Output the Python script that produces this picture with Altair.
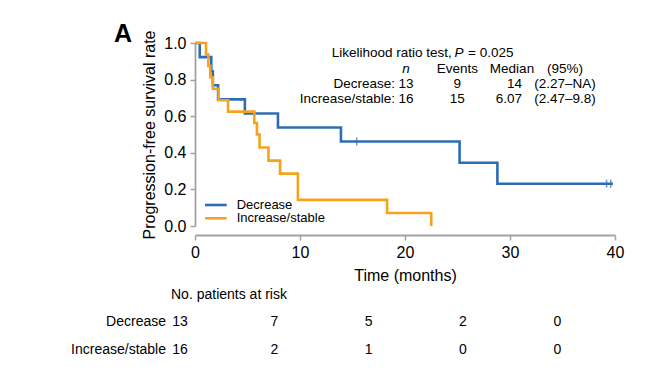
import altair as alt
import pandas as pd

FONT = "Liberation Sans"
BLUE = "#2e6db5"
ORANGE = "#f5a31e"
AXIS_GRAY = "#a3a3a3"

# Kaplan-Meier curves
groups = ["Decrease", "Increase/stable"]
dec_time = [0, 0.45, 1.55, 1.7, 2.2, 4.75, 7.9, 13.9, 25.2, 28.8, 39.8]
dec_surv = [1.0, 0.923, 0.846, 0.769, 0.692, 0.615, 0.538, 0.462, 0.346, 0.231, 0.231]
inc_time = [0, 1.05, 1.27, 1.45, 1.7, 2.25, 3.15, 5.65, 5.9, 6.15, 7.0, 8.1, 9.8, 18.3, 22.5]
inc_surv = [1.0, 0.9375, 0.875, 0.8125, 0.75, 0.6875, 0.625, 0.5625, 0.5, 0.429, 0.357, 0.286, 0.143, 0.071, 0.0]
cens_time = [15.4, 39.2, 39.6]
cens_surv = [0.462, 0.231, 0.231]

# y axis ticks
y_ticks = [0.0, 0.2, 0.4, 0.6, 0.8, 1.0]

# statistics box
stat_labels = ["Decrease:", "Increase/stable:"]
stat_n = ["13", "16"]
stat_events = ["9", "15"]
stat_median = ["14", "6.07"]
stat_ci = ["(2.27\u2013NA)", "(2.47\u20139.8)"]

# number at risk table
risk_times = [0, 10, 20, 30, 40]
risk_decrease = [13, 7, 5, 2, 0]
risk_increase = [16, 2, 1, 0, 0]

W, H = 420, 183

curves = pd.DataFrame(
    {"group": [groups[0]] * len(dec_time) + [groups[1]] * len(inc_time),
     "time": dec_time + inc_time,
     "surv": dec_surv + inc_surv,
     "order": list(range(len(dec_time))) + list(range(len(inc_time)))}
)
cens = pd.DataFrame({"time": cens_time, "surv": cens_surv})

xscale = alt.Scale(domain=[0, 40], nice=False, zero=False)
yscale = alt.Scale(domain=[0, 1], nice=False)

x_axis = alt.Axis(values=risk_times, title="Time (months)", grid=False, offset=9,
                  domainColor=AXIS_GRAY, tickColor=AXIS_GRAY, domainWidth=1.8, tickWidth=1.5,
                  tickSize=5, labelFontSize=16, titleFontSize=16, titleFontWeight="normal",
                  labelColor="black", titleColor="black", labelPadding=4, titlePadding=7,
                  labelFont=FONT, titleFont=FONT, labelOverlap=False, labelFlush=False)
y_axis = alt.Axis(values=y_ticks, format=".1f",
                  title="Progression-free survival rate", grid=False,
                  domainColor=AXIS_GRAY, tickColor=AXIS_GRAY, domainWidth=1.8, tickWidth=1.5,
                  tickSize=5, labelFontSize=16, titleFontSize=16, titleFontWeight="normal",
                  labelColor="black", titleColor="black", labelPadding=4, titlePadding=6,
                  labelFont=FONT, titleFont=FONT, labelOverlap=False, labelFlush=False)

lines = alt.Chart(curves).mark_line(interpolate="step-after", strokeWidth=2.6).encode(
    x=alt.X("time:Q", scale=xscale, axis=x_axis),
    y=alt.Y("surv:Q", scale=yscale, axis=y_axis),
    color=alt.Color("group:N", scale=alt.Scale(domain=groups, range=[BLUE, ORANGE]), legend=None),
    order="order:Q",
)
ticks = alt.Chart(cens).mark_tick(orient="vertical", size=8, thickness=1.5, color=BLUE).encode(
    x=alt.X("time:Q", scale=xscale, axis=x_axis),
    y=alt.Y("surv:Q", scale=yscale, axis=y_axis),
)
main = alt.layer(lines, ticks)

dummy = pd.DataFrame({"d": [0]})


def label(txt, x, y, align="left", size=13.5, **kw):
    return alt.Chart(dummy).mark_text(
        text=txt, align=align, baseline="middle", fontSize=size, font=FONT, color="black", **kw
    ).encode(x=alt.value(x), y=alt.value(y))


texts = []
# panel letter
texts.append(label("A", -72, -9, align="center", size=25, fontWeight="bold"))
# statistics box
texts.append(label("Likelihood ratio test,", 136.7, 10.3))
texts.append(label("P", 259.5, 10.3, fontStyle="italic"))
texts.append(label("= 0.025", 273, 10.3))
texts.append(label("n", 211, 26.3, align="center", fontStyle="italic"))
texts.append(label("Events", 262.3, 26.3, align="center"))
texts.append(label("Median", 317, 26.3, align="center"))
texts.append(label("(95%)", 370, 26.3, align="center"))
for i, yy in enumerate([41.3, 56.3]):
    texts.append(label(stat_labels[i], 200, yy, align="right"))
    texts.append(label(stat_n[i], 211, yy, align="center"))
    texts.append(label(stat_events[i], 262.3, yy, align="center"))
    texts.append(label(stat_median[i], 327, yy, align="right"))
    texts.append(label(stat_ci[i], 370, yy, align="center"))

# legend
legend_parts = []
for i, (g, c, yy) in enumerate(zip(groups, [BLUE, ORANGE], [162, 175.3])):
    legend_parts.append(
        alt.Chart(dummy).mark_rule(color=c, strokeWidth=2.6).encode(
            x=alt.value(10), x2=alt.value(31.7), y=alt.value(yy))
    )
    legend_parts.append(label(g, 41.7, yy, size=13))

# risk table
texts.append(label("No. patients at risk", -24, 252, size=14))
risk_parts = []
risk_x = alt.Scale(domain=[0, 40], range=[-15, 362.3])
for g, vals, yy in zip(groups, [risk_decrease, risk_increase], [278.7, 307]):
    df = pd.DataFrame({"time": risk_times, "n": vals})
    risk_parts.append(
        alt.Chart(df).mark_text(fontSize=14, font=FONT, color="black", baseline="middle",
                                align="center").encode(
            x=alt.X("time:Q", scale=risk_x, axis=None),
            y=alt.value(yy),
            text="n:Q",
        )
    )
    texts.append(label(g, -29, yy, align="right", size=14))

chart = alt.layer(main, *risk_parts, *legend_parts, *texts).resolve_scale(
    x="independent"
).properties(
    width=W, height=H,
    autosize=alt.AutoSizeParams(type="none"),
    padding={"left": 187, "top": 35, "right": 20, "bottom": 135},
    background="white",
).configure_view(stroke=None).configure_axis(labelOverlap=False)

chart.save("out.html", embed_options={"renderer": "svg", "actions": False})
